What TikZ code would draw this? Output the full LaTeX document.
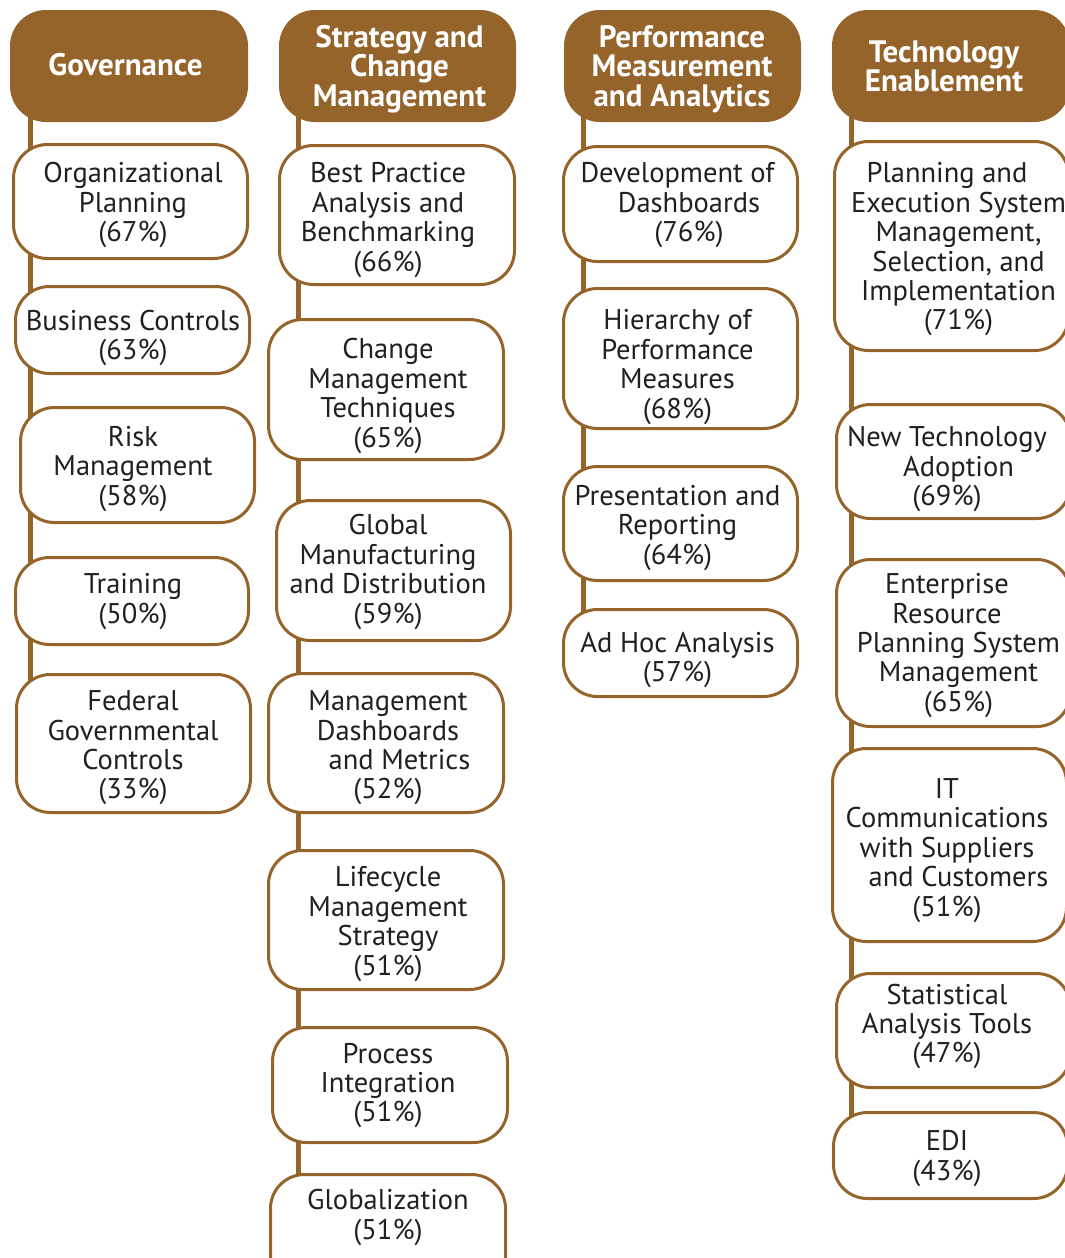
\documentclass[tikz,border=0pt]{standalone}
\usepackage{fontspec}
\setmainfont{PT Sans}
\usetikzlibrary{backgrounds}
\definecolor{bronze}{RGB}{149,100,43}
\definecolor{ink}{RGB}{35,31,32}
% shift one centred line to the right by 11.5pt
\newcommand\shln[1]{\hspace*{23pt}#1}
% rounded card: name, x1, y1, x2, y2 (outer edges)
\newcommand\card[5]{%
  \node[cardbox, minimum width={#4-#2-3}, minimum height={#5-#3-3}]
    (#1) at ({(#2+#4)/2},{(#3+#5)/2}) {};}
\newcommand\headbox[5]{%
  \node[headerbox, minimum width={#4-#2}, minimum height={#5-#3}]
    (#1) at ({(#2+#4)/2},{(#3+#5)/2}) {};}
\tikzset{
  cardbox/.style={draw=bronze, line width=3pt, fill=white, rounded corners=34pt,
    inner sep=0pt, outer sep=0pt},
  headerbox/.style={fill=bronze, rounded corners=36pt, inner sep=0pt, outer sep=0pt},
  cardtext/.style={align=center, text=ink, inner sep=0pt, yshift=-3pt,
    font=\fontsize{28.5}{29.4}\selectfont},
  headtext/.style={align=center, text=white, inner sep=0pt, yshift=-3pt,
    font=\fontsize{31}{29.5}\selectfont\bfseries},
  spine/.style={draw=bronze, line width=5pt}
}
\begin{document}
\begin{tikzpicture}[x=1pt, y=-1pt]
\useasboundingbox (0,0) rectangle (1065,1258);
\begin{scope}
\clip (0,0) rectangle (1065,1258);
% ---- Governance ----
\headbox{h1}{10}{10}{248}{122}
\node[headtext] (h1t) at (125.5,62) {Governance};
\card{g1}{12}{143}{249}{260}
\node[cardtext] (g1t) at (133,202.3) {Organizational\\Planning\\(67\%)};
\card{g2}{14}{285}{251}{375}
\node[cardtext] (g2t) at (133,335) {Business Controls\\(63\%)};
\card{g3}{19}{406}{256}{524}
\node[cardtext] (g3t) at (133,466) {Risk\\Management\\(58\%)};
\card{g4}{14}{556}{250}{646}
\node[cardtext] (g4t) at (133,598.5) {Training\\(50\%)};
\card{g5}{15}{673}{252}{814}
\node[cardtext] (g5t) at (133,745) {Federal\\Governmental\\Controls\\(33\%)};
% ---- Strategy and Change Management ----
\headbox{h2}{279}{10}{516}{122}
\node[headtext] (h2t) at (399.5,66) {Strategy and\\Change\\Management};
\card{s1}{278}{144}{516}{286}
\node[cardtext] (s1t) at (388,217) {Best Practice\\Analysis and\\Benchmarking\\(66\%)};
\card{s2}{267}{318}{505}{461}
\node[cardtext] (s2t) at (388,393) {Change\\Management\\Techniques\\(65\%)};
\card{s3}{275}{499}{512}{642}
\node[cardtext] (s3t) at (388,569) {Global\\Manufacturing\\and Distribution\\(59\%)};
\card{s4}{267}{672}{505}{814}
\node[cardtext] (s4t) at (388,745) {Management\\Dashboards\\\shln{and Metrics}\\(52\%)};
\card{s5}{267}{849}{505}{991}
\node[cardtext] (s5t) at (388,921) {Lifecycle\\Management\\Strategy\\(51\%)};
\card{s6}{271}{1026}{509}{1144}
\node[cardtext] (s6t) at (388,1082.5) {Process\\Integration\\(51\%)};
\card{s7}{269}{1173}{507}{1300}
\node[cardtext] (s7t) at (388,1214.5) {Globalization\\(51\%)};
% ---- Performance Measurement and Analytics ----
\headbox{h3}{564}{10}{801}{122}
\node[headtext] (h3t) at (682,66) {Performance\\Measurement\\and Analytics};
\card{p1}{562}{145}{799}{263}
\node[cardtext] (p1t) at (677.5,202.3) {Development of\\\shln{Dashboards}\\\shln{(76\%)}};
\card{p2}{562}{287}{799}{430}
\node[cardtext] (p2t) at (677.5,364) {Hierarchy of\\Performance\\Measures\\(68\%)};
\card{p3}{562}{465}{799}{582}
\node[cardtext] (p3t) at (677.5,525) {Presentation and\\Reporting\\(64\%)};
\card{p4}{562}{608}{799}{698}
\node[cardtext] (p4t) at (677.5,657) {Ad Hoc Analysis\\(57\%)};
% ---- Technology Enablement ----
\headbox{h4}{832}{10}{1070}{122}
\node[headtext] (h4t) at (944,63.5) {Technology\\Enablement};
\card{t1}{833}{140}{1070}{352}
\node[cardtext] (t1t) at (947,246.5) {Planning and\\\shln{Execution System}\\\shln{Management,}\\\shln{Selection, and}\\\shln{Implementation}\\\shln{(71\%)}};
\card{t2}{835}{403}{1072}{520}
\node[cardtext] (t2t) at (947,466) {New Technology\\\shln{Adoption}\\(69\%)};
\card{t3}{835}{558}{1072}{728}
\node[cardtext] (t3t) at (947,642.5) {Enterprise\\Resource\\\shln{Planning System}\\\shln{Management}\\\shln{(65\%)}};
\card{t4}{831}{747}{1068}{943}
\node[cardtext] (t4t) at (947,847.5) {IT\\Communications\\with Suppliers\\\shln{and Customers}\\(51\%)};
\card{t5}{835}{972}{1072}{1089}
\node[cardtext] (t5t) at (947,1023.5) {Statistical\\Analysis Tools\\(47\%)};
\card{t6}{832}{1111}{1069}{1200}
\node[cardtext] (t6t) at (947,1155.5) {EDI\\(43\%)};
\end{scope}
% spines running down the left of each column, behind the cards
\coordinate (c1) at (30.5,0);
\coordinate (c2) at (298.5,0);
\coordinate (c3) at (583.5,0);
\coordinate (c4) at (851.5,0);
\begin{scope}[on background layer]
\draw[spine] (h1.center -| c1) -- (g5.center -| c1);
\draw[spine] (h2.center -| c2) -- (s7.center -| c2);
\draw[spine] (h3.center -| c3) -- (p4.center -| c3);
\draw[spine] (h4.center -| c4) -- (t6.center -| c4);
\end{scope}
\end{tikzpicture}
\end{document}
